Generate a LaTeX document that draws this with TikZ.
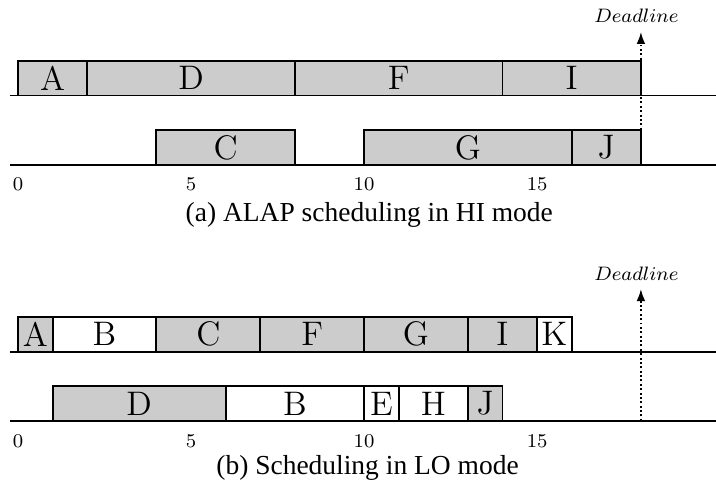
\documentclass[tikz,border=0pt]{standalone}
\usepackage{fontspec}
\newfontfamily\capfont{Liberation Serif}
\usetikzlibrary{positioning,arrows.meta}
\tikzset{>={Latex[length=5pt,width=3.6pt]}}
\tikzstyle{hitask} = [draw,
                      thick,
                      fill=gray!40,
                      minimum height=0.5cm,
                      inner sep=0pt,
                      outer sep=0pt,
                      anchor=south west,
                      font=\fontsize{14}{16}\selectfont]
\tikzstyle{lotask} = [hitask, fill=white]
\tikzstyle{tick}   = [inner sep=0pt, font=\fontsize{8}{9}\selectfont]
\tikzstyle{caption}= [inner sep=0pt, font=\capfont\fontsize{11.3}{13}\selectfont]
\tikzstyle{dltext} = [inner sep=0pt, font=\fontsize{7.6}{9}\selectfont]
\tikzstyle{deadline} = [->,
                        thick,
                        densely dotted]
\newcommand{\len}[1]{#1*0.5cm}

\begin{document}
\begin{tikzpicture}[x=0.5cm, y=0.5cm]
  \useasboundingbox (-0.52,0) rectangle (20.17,14.16);

  % Time lines
  \coordinate (hione) at (-0.23,11.4);  \coordinate (hioneend) at (20.17,11.4);
  \coordinate (hitwo) at (-0.23,9.4);   \coordinate (hitwoend) at (20.17,9.4);
  \coordinate (loone) at (-0.23,4);     \coordinate (looneend) at (20.17,4);
  \coordinate (lotwo) at (-0.23,2);     \coordinate (lotwoend) at (20.17,2);
  \draw[thick] (hione) -- (hioneend);
  \draw[thick] (hitwo) -- (hitwoend);
  \draw[thick] (loone) -- (looneend);
  \draw[thick] (lotwo) -- (lotwoend);

  % HI mode
  \node[hitask, minimum width=\len{2}] (hiA) at (0,11.4) {A};
  \node[hitask, minimum width=\len{6}, right=0pt of hiA] (hiD) {D};
  \node[hitask, minimum width=\len{6}, right=0pt of hiD] (hiF) {F};
  \node[hitask, minimum width=\len{4}, right=0pt of hiF] (hiI) {I};

  \node[hitask, minimum width=\len{4}] (hiC) at (4,9.4) {C};
  \node[hitask, minimum width=\len{6}] (hiG) at (10,9.4) {G};
  \node[hitask, minimum width=\len{2}, right=0pt of hiG] (hiJ) {J};

  \node[tick] (hit0) at (0,8.83) {0};
  \node[tick] (hit5) at (5,8.83) {5};
  \node[tick] (hit10) at (10,8.83) {10};
  \node[tick] (hit15) at (15,8.83) {15};

  \coordinate (hidl) at (18,9.4);
  \coordinate (hidltip) at (18,13.24);
  \node[dltext] (hidltext) at (17.87,13.70) {$Deadline$};
  \draw[deadline] (hidl) -- (hidltip);

  \node[caption] (hicap) at (10.15,7.95) {(a) ALAP scheduling in HI mode};

  % LO mode
  \node[hitask, minimum width=\len{1}] (loA) at (0,4) {A};
  \node[lotask, minimum width=\len{3}, right=0pt of loA] (loB) {B};
  \node[hitask, minimum width=\len{3}, right=0pt of loB] (loC) {C};
  \node[hitask, minimum width=\len{3}, right=0pt of loC] (loF) {F};
  \node[hitask, minimum width=\len{3}, right=0pt of loF] (loG) {G};
  \node[hitask, minimum width=\len{2}, right=0pt of loG] (loI) {I};
  \node[lotask, minimum width=\len{1}, right=0pt of loI] (loK) {K};

  \node[hitask, minimum width=\len{5}] (loD) at (1,2) {D};
  \node[lotask, minimum width=\len{4}, right=0pt of loD] (loBb) {B};
  \node[lotask, minimum width=\len{1}, right=0pt of loBb] (loE) {E};
  \node[lotask, minimum width=\len{2}, right=0pt of loE] (loH) {H};
  \node[hitask, minimum width=\len{1}, right=0pt of loH] (loJ) {J};

  \node[tick] (lot0) at (0,1.42) {0};
  \node[tick] (lot5) at (5,1.42) {5};
  \node[tick] (lot10) at (10,1.42) {10};
  \node[tick] (lot15) at (15,1.42) {15};

  \coordinate (lodl) at (18,2);
  \coordinate (lodltip) at (18,5.81);
  \node[dltext] (lodltext) at (17.87,6.24) {$Deadline$};
  \draw[deadline] (lodl) -- (lodltip);

  \node[caption] (locap) at (10.1,0.64) {(b) Scheduling in LO mode};

\end{tikzpicture}
\end{document}
